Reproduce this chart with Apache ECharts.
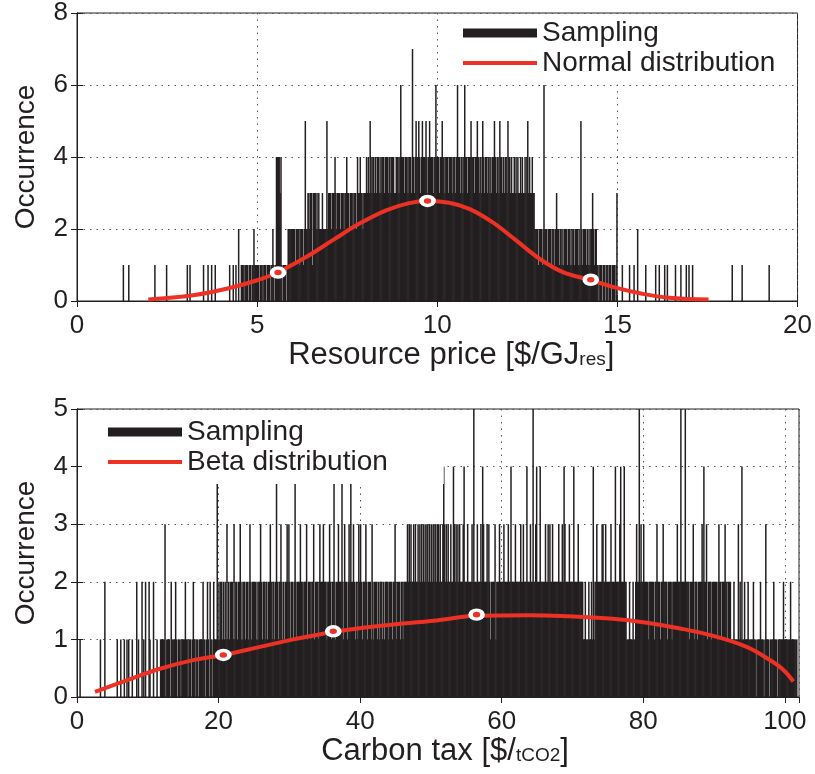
<!DOCTYPE html>
<html>
<head>
<meta charset="utf-8">
<script src="https://cdn.jsdelivr.net/npm/echarts@6/dist/echarts.min.js"></script>
<style>
  html, body { margin: 0; padding: 0; background: #fff; }
  #main { width: 815px; height: 774px; }
</style>
</head>
<body>
<div id="main"></div>
<script>
// ---- resource price histogram: bin width 0.025, one string per unit of x (40 bins), digit = occurrence
var priceBin = 0.025;
var priceRows = [
  "",
  "000000000001000001",
  "0000001000000000000100",
  "0010010000000000000010000100010001",
  "0000000001" + "0001001002" + "0011101111" + "0110112111",
  "1101110111" + "0111011210" + "1444434101" + "1101222222",
  "2212222122" + "2125223323" + "3133323232" + "2232222523",
  "3323334323" + "3323332334" + "3323332333" + "2433433233",
  "3434354344" + "3434434344" + "4344434434" + "4433444346",
  "4443444344" + "4374345445" + "4345444543" + "4544434464",
  "4434454434" + "4434443444" + "3464434434" + "6443444544",
  "4344543443" + "5434434434" + "3445434435" + "4434344354",
  "4343343434" + "3343433434" + "5343343322" + "2212221262",
  "2212221222" + "1232212212" + "1222122121" + "2212221215",
  "2122212121" + "2232122110" + "1110110111" + "0110111013",
  "00000100000001000010002000000001",
  "0010001000001001000000001000001000001001",
  "0001",
  "0000000100000000001",
  "000000001"
];
// red normal curve
var priceFitX = [1.98, 3.22, 4.15, 4.98, 5.58, 6.36, 7.10, 7.84, 8.58, 9.22, 9.73, 10.33, 10.89, 11.53, 12.18, 12.83, 13.47, 14.26, 14.95, 15.69, 16.43, 17.53];
var priceFitY = [0.04, 0.16, 0.34, 0.57, 0.80, 1.22, 1.69, 2.15, 2.52, 2.72, 2.78, 2.73, 2.56, 2.19, 1.69, 1.18, 0.81, 0.58, 0.37, 0.20, 0.09, 0.04];
var priceMarkX = [5.58, 9.73, 14.26];
var priceMarkY = [0.79, 2.78, 0.59];

// ---- carbon tax histogram: bin width 0.125, one string per 5 units of x (40 bins)
var taxBin = 0.125;
var taxRows = [
  "0001000000" + "0000000000" + "0000001000" + "02",
  "0000010001" + "0001001010" + "0010000201" + "0002010200",
  "0210002000" + "1000111113" + "0111102111" + "1210111011",
  "1121101110" + "1210111011" + "1121101210" + "2110211141",
  "2122121213" + "1212221312" + "2122312122" + "1221232122",
  "2212122321" + "2221212232" + "1221242122" + "3212122323",
  "2122124212" + "2232212223" + "1222122312" + "2212322232",
  "2212232122" + "4212232224" + "2132212324" + "2232122132",
  "3212223212" + "2213212221" + "2122212122" + "2212221223",
  "2122212212" + "2223232322" + "3232232323" + "2323233232",
  "3233232332" + "3223432323" + "2232243232" + "3232223422",
  "2322223252" + "2232223243" + "2223232122" + "2231222322",
  "2232222322" + "4222232222" + "2322322242" + "2232252234",
  "2224222223" + "2232322322" + "2222322232" + "4322223222",
  "2422223222" + "2211211121" + "1214122322" + "2223322322",
  "2223222242" + "2223422242" + "2111211121" + "1232252322",
  "3222212222" + "2212232221" + "2232222122" + "2212222232",
  "2252222522" + "2212223122" + "2122223242" + "2312222122",
  "2221232212" + "2232212221" + "1121111312" + "1411211121",
  "1111211011" + "1121110131" + "1101111211" + "1011111121",
  "11111121111111"
];
var taxFitX = [2.54, 7.02, 11.72, 16.43, 20.67, 25.85, 30.56, 36.2, 42.33, 50.8, 56.45, 64.0, 69.6, 75.7, 80.5, 85.2, 89.9, 94.6, 97.9, 99.8, 101.2];
var taxFitY = [0.09, 0.29, 0.49, 0.64, 0.73, 0.87, 1.0, 1.13, 1.23, 1.33, 1.41, 1.42, 1.40, 1.36, 1.29, 1.19, 1.06, 0.87, 0.64, 0.47, 0.27];
var taxMarkX = [20.67, 36.2, 56.45];
var taxMarkY = [0.73, 1.14, 1.43];

var ink = "#231f20";
var red = "#ed3125";
var font = "Liberation Sans, Arial, Helvetica, sans-serif";

function rowsToBars(rows, perRow, bin) {
  var out = [];
  rows.forEach(function (row, r) {
    for (var i = 0; i < row.length; i++) {
      var v = +row[i];
      if (v > 0) out.push([(r * perRow + i + 0.5) * bin, v]);
    }
  });
  return out;
}
function zip(xs, ys) {
  return xs.map(function (x, i) { return [x, ys[i]]; });
}

// bottom/left axes carry labels and dotted grid, top/right ones only inner ticks
function xAxisFor(grid, min, max, step, name, pos, shift) {
  var main = pos === "bottom";
  return {
    type: "value", gridIndex: grid, position: pos, min: min, max: max, interval: step,
    name: main ? name : "", nameLocation: "middle", nameGap: 33,
    nameTextStyle: {
      padding: [0, 0, 0, shift || 0],
      rich: {
        a: { fontSize: 31, fontFamily: font, color: ink },
        s: { fontSize: 19, fontFamily: font, color: ink, verticalAlign: "bottom", padding: [0, 0, 2, 0] }
      }
    },
    axisLine: { show: true, lineStyle: { color: ink, width: 1 } },
    axisTick: { show: true, inside: true, length: 6, lineStyle: { color: ink } },
    axisLabel: { show: main, fontSize: 26, fontFamily: font, color: ink, margin: 12, showMaxLabel: max % step === 0 },
    splitLine: { show: main, lineStyle: { color: "#555", type: [1.5, 5], width: 1 } }
  };
}
function yAxisFor(grid, max, step, pos) {
  var main = pos === "left";
  return {
    type: "value", gridIndex: grid, position: pos, min: 0, max: max, interval: step,
    name: main ? "Occurrence" : "", nameLocation: "middle", nameGap: 37,
    nameTextStyle: { fontSize: 28, fontFamily: font, color: ink },
    axisLine: { show: true, lineStyle: { color: ink, width: 1 } },
    axisTick: { show: true, inside: true, length: 6, lineStyle: { color: ink } },
    axisLabel: { show: main, fontSize: 26, fontFamily: font, color: ink, margin: 9 },
    splitLine: { show: main, lineStyle: { color: "#555", type: [1.5, 5], width: 1 } }
  };
}

var legendBase = {
  orient: "vertical", backgroundColor: "#fff", itemWidth: 74, itemHeight: 9, itemGap: 2, itemTextGap: 7,
  selectedMode: false,
  textStyle: { fontSize: 28, fontFamily: font, color: ink, lineHeight: 27 }
};
var lineIcon = "path://M0,0H74V4H0Z";

var option = {
  animation: false,
  backgroundColor: "#fff",
  grid: [
    { left: 77, top: 13, width: 722, height: 288, show: true, borderColor: ink, borderWidth: 1, backgroundColor: "#fff" },
    { left: 77, top: 409, width: 722, height: 288, show: true, borderColor: ink, borderWidth: 1, backgroundColor: "#fff" }
  ],
  legend: [
    Object.assign({}, legendBase, {
      left: 445, top: 14, padding: [5, 21, 7, 18],
      data: [{ name: "Sampling", icon: "rect" }, { name: "Normal distribution", icon: lineIcon }]
    }),
    Object.assign({}, legendBase, {
      left: 82, top: 410, padding: [8, 56, 8, 26],
      data: [{ name: "Sampling", icon: "rect" }, { name: "Beta distribution", icon: lineIcon }]
    })
  ],
  xAxis: [
    xAxisFor(0, 0, 20, 5, "{a|Resource price [$/GJ}{s|res}{a|]}", "bottom", 28),
    xAxisFor(0, 0, 20, 5, "", "top"),
    xAxisFor(1, 0, 102, 20, "{a|Carbon tax [$/}{s|tCO2}{a|]}", "bottom", 14),
    xAxisFor(1, 0, 102, 20, "", "top")
  ],
  yAxis: [
    yAxisFor(0, 8, 2, "left"),
    yAxisFor(0, 8, 2, "right"),
    yAxisFor(1, 5, 1, "left"),
    yAxisFor(1, 5, 1, "right")
  ],
  series: [
    {
      name: "Sampling", type: "bar", xAxisIndex: 0, yAxisIndex: 0, barWidth: 1.5,
      itemStyle: { color: ink }, data: rowsToBars(priceRows, 40, priceBin)
    },
    {
      name: "Normal distribution", type: "line", xAxisIndex: 0, yAxisIndex: 0, smooth: 0.4,
      symbol: "none", color: red, itemStyle: { color: red }, lineStyle: { color: red, width: 4 },
      data: zip(priceFitX, priceFitY), z: 3
    },
    {
      type: "scatter", xAxisIndex: 0, yAxisIndex: 0, symbol: "circle", symbolSize: [12, 9],
      itemStyle: { color: red, borderColor: "#fff", borderWidth: 4, opacity: 1 },
      data: zip(priceMarkX, priceMarkY), z: 4
    },
    {
      name: "Sampling", type: "bar", xAxisIndex: 2, yAxisIndex: 2, barWidth: 1.5,
      itemStyle: { color: ink }, data: rowsToBars(taxRows, 40, taxBin)
    },
    {
      name: "Beta distribution", type: "line", xAxisIndex: 2, yAxisIndex: 2, smooth: 0.4,
      symbol: "none", color: red, itemStyle: { color: red }, lineStyle: { color: red, width: 4 },
      data: zip(taxFitX, taxFitY), z: 3
    },
    {
      type: "scatter", xAxisIndex: 2, yAxisIndex: 2, symbol: "circle", symbolSize: [12, 9],
      itemStyle: { color: red, borderColor: "#fff", borderWidth: 4, opacity: 1 },
      data: zip(taxMarkX, taxMarkY), z: 4
    }
  ]
};

var myChart = echarts.init(document.getElementById("main"));
myChart.setOption(option);
</script>
</body>
</html>
